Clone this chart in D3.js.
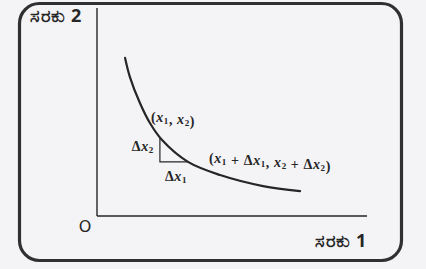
<!DOCTYPE html>
<html>
<head>
<meta charset="utf-8">
<script src="https://cdn.jsdelivr.net/npm/d3@7"></script>
<style>
  body { margin: 0; background: #f4f4f7; }
  svg { display: block; }
</style>
</head>
<body>
<div id="chart"></div>
<script>
// indifference curve, values (arbitrary units)
var curveX = [1.04, 1.22, 1.59, 1.96, 2.41, 3.37, 4.56, 6.15, 7.52]
var curveY = [7.6, 6.68, 5.43, 4.47, 3.65, 2.60, 1.97, 1.44, 1.20]

// the two bundles and the step between them
var pointA = [2.33, 3.78]
var pointB = [3.37, 2.60]

var yLabel = "ಸರಕು 2"
var xLabel = "ಸರಕು 1"
var originLabel = "O"

var width = 426, height = 269
var ink = "#262626"

var svg = d3.select("#chart").append("svg")
  .attr("width", width)
  .attr("height", height)

svg.append("rect")
  .attr("width", width).attr("height", height)
  .attr("fill", "#f4f4f7")

// rounded frame
svg.append("rect")
  .attr("x", 19.5).attr("y", 3.5)
  .attr("width", 382).attr("height", 257)
  .attr("rx", 20).attr("ry", 20)
  .attr("fill", "none")
  .attr("stroke", "#303030")
  .attr("stroke-width", 3.2)

var x = d3.scaleLinear().domain([0, 10]).range([97, 367])
var y = d3.scaleLinear().domain([0, 10]).range([216, 8])

// axes as plain lines
svg.append("line")
  .attr("x1", x(0)).attr("y1", y(0))
  .attr("x2", x(0)).attr("y2", y(10))
  .attr("stroke", ink).attr("stroke-width", 1.4)

svg.append("line")
  .attr("x1", x(0)).attr("y1", y(0))
  .attr("x2", x(10)).attr("y2", y(0))
  .attr("stroke", ink).attr("stroke-width", 1.4)

var pts = curveX.map((d, i) => [d, curveY[i]])

var line = d3.line()
  .x(d => x(d[0]))
  .y(d => y(d[1]))
  .curve(d3.curveCatmullRom)

svg.append("path")
  .datum(pts)
  .attr("d", line)
  .attr("fill", "none")
  .attr("stroke", ink)
  .attr("stroke-width", 2.2)
  .attr("stroke-linecap", "round")

// step triangle
svg.append("path")
  .attr("d", d3.line()([
    [x(pointA[0]), y(pointA[1])],
    [x(pointA[0]), y(pointB[1])],
    [x(pointB[0]), y(pointB[1])]
  ]))
  .attr("fill", "none")
  .attr("stroke", ink)
  .attr("stroke-width", 1.2)

var serif = "'Liberation Serif', 'DejaVu Serif', serif"

function label(px, py, anchor) {
  return svg.append("text")
    .attr("x", px).attr("y", py)
    .attr("text-anchor", anchor)
    .attr("font-family", serif)
    .attr("font-weight", "bold")
    .attr("font-size", 14)
    .attr("letter-spacing", 0.6)
    .attr("fill", ink)
}

function xsub(t, n) {
  t.append("tspan").attr("font-style", "italic").text("x")
  t.append("tspan").attr("font-size", 9).attr("dy", 2).text(n)
  t.append("tspan").attr("dy", -2).text("")
}

// (x1, x2)
var t1 = label(x(pointA[0]) - 9, y(pointA[1]) - 15, "start")
t1.append("tspan").text("(")
xsub(t1, "1")
t1.append("tspan").text(",  ")
xsub(t1, "2")
t1.append("tspan").text(")")

// Δx2
var t2 = label(x(pointA[0]) - 6, y(pointA[1]) + 14, "end")
t2.append("tspan").text("Δ")
xsub(t2, "2")

// Δx1
var t3 = label((x(pointA[0]) + x(pointB[0])) / 2 + 2, y(pointB[1]) + 19, "middle")
t3.append("tspan").text("Δ")
xsub(t3, "1")

// (x1 + Δx1, x2 + Δx2)
var t4 = label(x(pointB[0]) + 21, y(pointB[1]) + 1, "start")
t4.append("tspan").text("(")
xsub(t4, "1")
t4.append("tspan").text(" + Δ")
xsub(t4, "1")
t4.append("tspan").text(", ")
xsub(t4, "2")
t4.append("tspan").text(" + Δ")
xsub(t4, "2")
t4.append("tspan").text(")")

// axis names and origin
svg.append("text")
  .attr("x", 30).attr("y", 22)
  .attr("font-family", "'Noto Sans', 'DejaVu Sans', sans-serif")
  .attr("font-weight", "bold")
  .attr("font-size", 18)
  .attr("letter-spacing", 0.6)
  .attr("fill", ink)
  .text(yLabel)

svg.append("text")
  .attr("x", 315).attr("y", 247)
  .attr("font-family", "'Noto Sans', 'DejaVu Sans', sans-serif")
  .attr("font-weight", "bold")
  .attr("font-size", 18)
  .attr("letter-spacing", 0.6)
  .attr("fill", ink)
  .text(xLabel)

svg.append("text")
  .attr("x", 85).attr("y", 232)
  .attr("text-anchor", "middle")
  .attr("font-family", "'DejaVu Sans', sans-serif")
  .attr("font-size", 16)
  .attr("fill", ink)
  .text(originLabel)
</script>
</body>
</html>
